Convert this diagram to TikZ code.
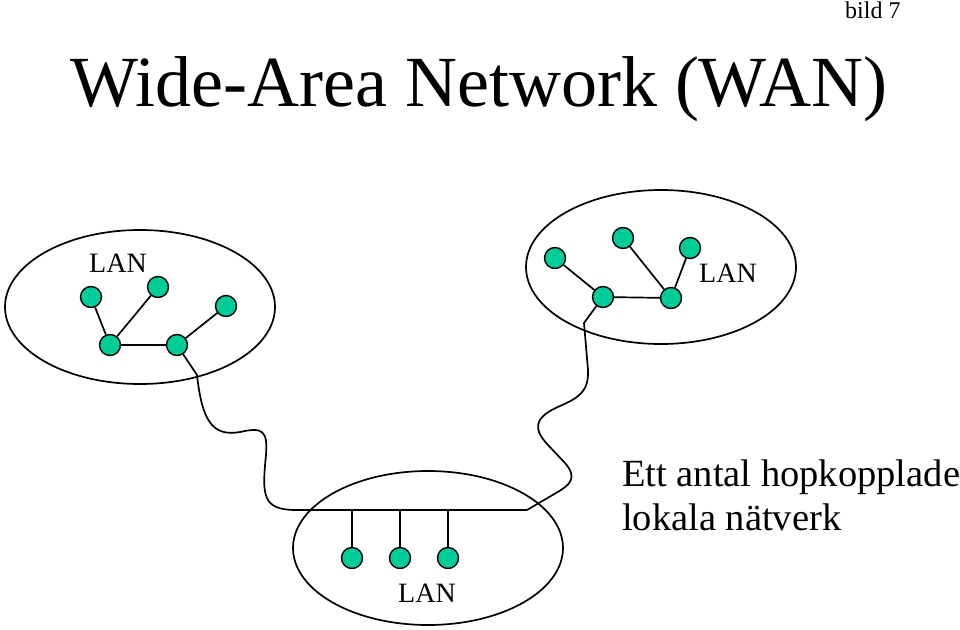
\documentclass[tikz,border=0pt]{standalone}
\usepackage{fontspec}
\setmainfont{Liberation Serif}
\usetikzlibrary{positioning}

\begin{document}
\begin{tikzpicture}[x=1pt, y=-1pt,
    host/.style={circle, draw, line width=1.4pt, fill=hostCol, minimum size=21pt, inner sep=0pt},
    link/.style={line width=1.7pt},
    lanring/.style={line width=1.7pt}]
    % Parameters
    \def\rx{135pt}
    \def\ry{77pt}

    % Colors
    \definecolor{hostCol}{HTML}{00CC99}

    \useasboundingbox (0,0) rectangle (960,629);

    % 1. Titles
    \node[anchor=base west, inner sep=0pt, font=\fontsize{72}{72}\selectfont] (title) at (70,106) {Wide-Area Network (WAN)};
    \node[anchor=base west, inner sep=0pt, font=\fontsize{24}{24}\selectfont] (bild) at (845,18) {bild 7};

    % 2. The three LAN rings
    \draw[lanring] (140,307) ellipse [x radius=\rx, y radius=\ry];
    \draw[lanring] (661,267) ellipse [x radius=\rx, y radius=\ry];
    \draw[lanring] (428,548) ellipse [x radius=\rx, y radius=\ry];

    \node[anchor=base, inner sep=0pt, font=\fontsize{28}{28}\selectfont] (lanA) at (118,272) {LAN};
    \node[anchor=base, inner sep=0pt, font=\fontsize{28}{28}\selectfont] (lanB) at (728,282) {LAN};
    \node[anchor=base, inner sep=0pt, font=\fontsize{28}{28}\selectfont] (lanC) at (427,602) {LAN};

    % 3. Left LAN (tree)
    \node[host] (a1) at (91,297) {};
    \node[host] (a2) at (158,287) {};
    \node[host] (a3) at (226,306) {};
    \node[host] (a4) at (110,345) {};
    \node[host] (a5) at (177,345) {};
    \draw[link] (a1) -- (a4);
    \draw[link] (a2) -- (a4);
    \draw[link] (a4) -- (a5);
    \draw[link] (a5) -- (a3);

    % 4. Right LAN (tree)
    \node[host] (b1) at (555,258) {};
    \node[host] (b2) at (623,238) {};
    \node[host] (b3) at (690,248) {};
    \node[host] (b4) at (603,297) {};
    \node[host] (b5) at (671,298) {};
    \draw[link] (b1) -- (b4);
    \draw[link] (b4) -- (b5);
    \draw[link] (b2) -- (b5);
    \draw[link] (b3) -- (b5);

    % 5. Bottom LAN (bus)
    \coordinate (busL) at (296,510);
    \coordinate (busR) at (527,510);
    \draw[link] (busL) -- (busR);
    \foreach \x [count=\i] in {352, 400, 448} {
        \node[host] (c\i) at (\x,558) {};
        \draw[link] (c\i) -- (c\i |- busL);
    }

    % 6. Wide-area cables
    \draw[link] (a5) -- (197,375) .. controls (202,420) and (212,437) .. (240,432)
        .. controls (262,427) and (268,430) .. (266,455)
        .. controls (262,495) and (262,510) .. (busL);
    \draw[link] (b4) -- (584,323) -- (588,370)
        .. controls (589,392) and (578,398) .. (560,406)
        .. controls (532,418) and (534,430) .. (548,445) -- (565,463)
        .. controls (578,478) and (570,485) .. (556,493) -- (busR);

    % 7. Caption
    \node[anchor=base west, inner sep=0pt, font=\fontsize{38.5}{38.5}\selectfont] (capA) at (622,486) {Ett antal hopkopplade};
    \node[anchor=base west, inner sep=0pt, font=\fontsize{38.5}{38.5}\selectfont] (capB) at ([yshift=-44pt]capA.base west) {lokala nätverk};
\end{tikzpicture}
\end{document}
